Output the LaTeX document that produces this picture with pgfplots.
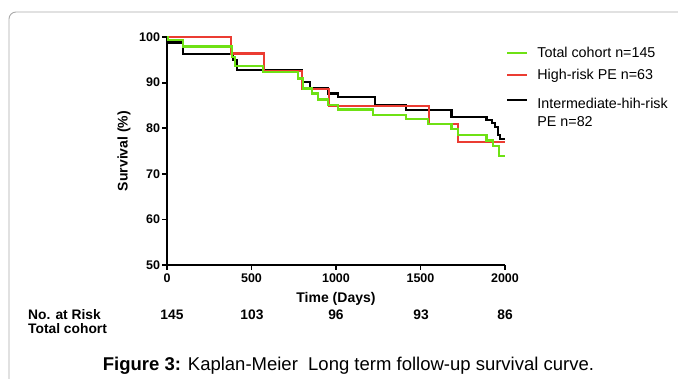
\documentclass[border=0pt]{standalone}
\usepackage{fontspec}
\setmainfont{Liberation Sans}
\usepackage{pgfplots}
\pgfplotsset{compat=1.18}
\definecolor{kmgreen}{RGB}{110,225,20}
\definecolor{kmred}{RGB}{235,60,50}
\definecolor{framegray}{RGB}{170,170,170}
\begin{document}
\begin{tikzpicture}
\useasboundingbox (-167bp,-114bp) rectangle (511bp,265bp);
\draw[framegray, line width=0.9bp, rounded corners=7bp] (-158bp,-116bp) -- (-158bp,253bp) -- (513bp,253bp);
\begin{axis}[
  at={(0,0)}, anchor=south west,
  scale only axis, width=338bp, height=228bp,
  xmin=0, xmax=2000, ymin=50, ymax=100,
  axis x line*=bottom, axis y line*=left,
  axis line style={line width=2bp, black},
  xtick={0,500,1000,1500,2000},
  ytick={50,60,70,80,90,100},
  tick align=outside, major tick length=4.5bp,
  tick style={line width=1.8bp, black},
  /pgf/number format/assume math mode=true,
  /pgf/number format/1000 sep={},
  tick label style={font=\bfseries\fontsize{12.5bp}{14bp}\selectfont},
  xticklabel style={yshift=-1bp},
  yticklabel style={xshift=1bp},
  xlabel={Time (Days)},
  ylabel={Survival (\%)},
  label style={font=\bfseries\fontsize{14bp}{16bp}\selectfont},
  xlabel style={at={(axis description cs:0.5,0)}, anchor=center, yshift=-34bp},
  ylabel style={at={(axis description cs:-0.127,0.5)}, anchor=center},
  clip=false,
  reverse legend,
  legend image code/.code={\draw[#1, line width=2.2bp] (0bp,0bp) -- (20bp,0bp);},
  legend style={at={(rel axis cs:1.003,0.955)}, anchor=north west, draw=none, fill=none,
    font=\fontsize{14.3bp}{17bp}\selectfont, row sep=9.5bp, inner sep=0pt,
    nodes={inner sep=0pt}, column sep=9bp},
  legend cell align=left,
]
\addplot[black, line width=2.2bp, const plot] coordinates {
(0,100)(8,98.8)(97,96.3)(391,95.0)(412,92.8)(797,90.2)(846,88.7)(955,87.6)(1014,86.8)(1231,85.1)(1414,84.0)(1684,82.5)(1891,81.8)(1921,81.1)(1941,80.2)(1960,78.5)(1970,77.6)(2000,77.6)};
\addlegendentry{\begin{tabular}[t]{@{}l@{}}\rule{0pt}{18bp}Intermediate-hih-risk\\[1bp]PE n=82\end{tabular}}
\addplot[kmred, line width=2.2bp, const plot] coordinates {
(0,100)(377,96.4)(576,92.6)(797,88.6)(958,84.9)(1550,81.0)(1720,77.0)(2000,77.0)};
\addlegendentry{High-risk PE n=63}
\addplot[kmgreen, line width=2.2bp, const plot] coordinates {
(0,100)(8,99.3)(97,97.9)(383,95.7)(402,93.6)(570,92.4)(775,90.9)(807,88.7)(856,87.6)(895,86.3)(955,85.1)(1014,84.1)(1221,82.9)(1414,82.0)(1546,80.9)(1684,79.8)(1724,78.5)(1891,77.3)(1931,76.1)(1966,73.9)(2000,73.9)};
\addlegendentry{Total cohort n=145}
\end{axis}
\begin{scope}[every node/.style={font=\bfseries\fontsize{13.8bp}{15bp}\selectfont, inner sep=0pt}]
\node[anchor=west] at (-139bp,-50bp) {No. at Risk};
\node[anchor=west] at (-139bp,-64bp) {Total cohort};
\node at (5bp,-50bp) {145};
\node at (85bp,-50bp) {103};
\node at (169bp,-50bp) {96};
\node at (254bp,-50bp) {93};
\node at (338bp,-50bp) {86};
\end{scope}
\node[inner sep=0pt, font=\fontsize{18.5bp}{20bp}\selectfont] at (181.5bp,-101bp) {\textbf{Figure 3:} Kaplan-Meier\ \ Long term follow-up survival curve.};
\end{tikzpicture}
\end{document}
